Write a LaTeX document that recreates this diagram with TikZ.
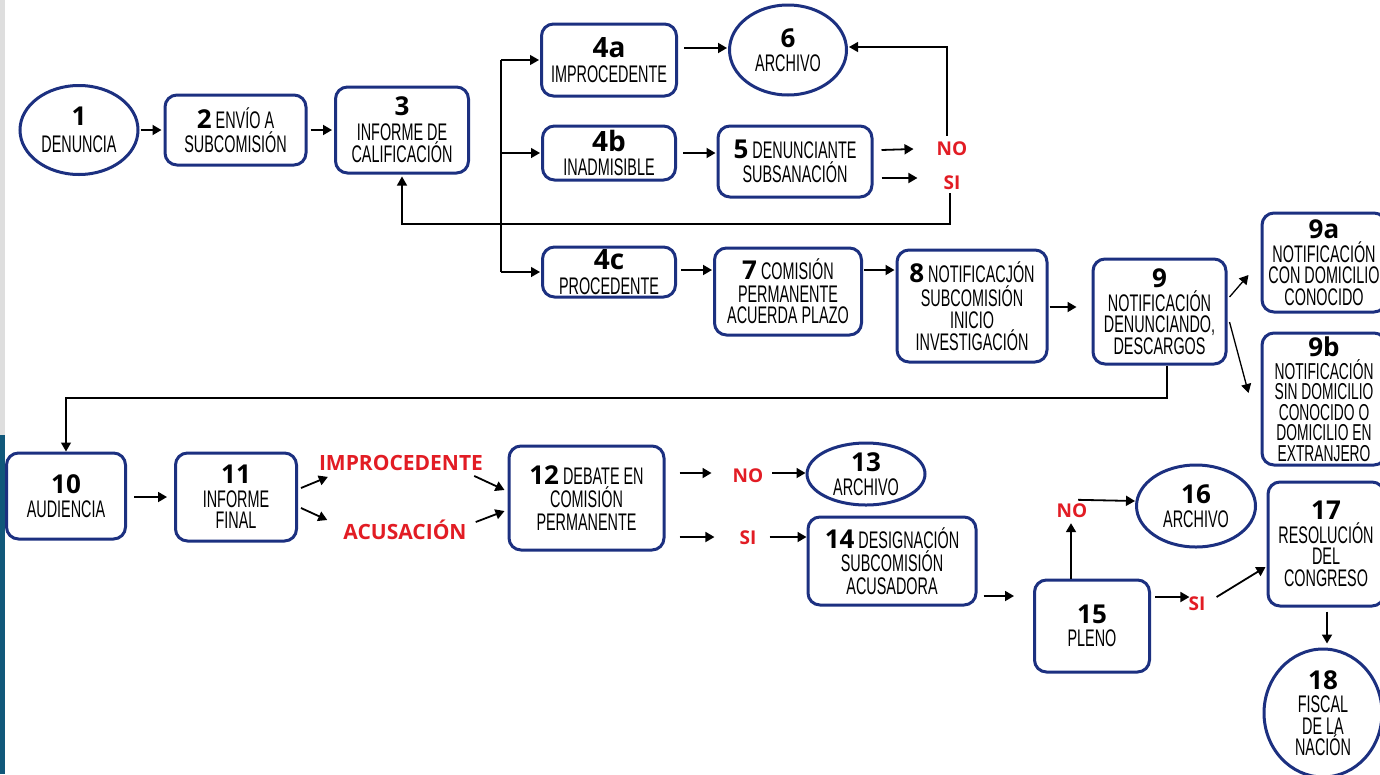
\documentclass[tikz,border=0pt]{standalone}
\usepackage{fontspec}
\usetikzlibrary{shapes.geometric,arrows.meta,calc}
\newfontfamily\cond[FakeStretch=0.6]{Liberation Sans}
\newfontfamily\numf{Open Sans}
\definecolor{navy}{RGB}{28,48,128}
\definecolor{lblred}{RGB}{226,28,36}
\definecolor{stripblue}{RGB}{17,88,122}
\definecolor{stripgrey}{RGB}{222,222,222}
\newcommand{\nm}[1]{{\numf\bfseries\fontsize{26}{26}\selectfont #1}}
\newcommand{\nmb}[1]{{\numf\bfseries\fontsize{28}{28}\selectfont #1}}
\begin{document}
\begin{tikzpicture}[x=1pt,y=-1pt,
  box/.style={draw=navy, line width=3pt, rounded corners=12pt, fill=white, align=center,
    inner sep=0pt, font=\cond\fontsize{24}{21.5}\selectfont, text=black},
  oval/.style={ellipse, draw=navy, line width=3pt, fill=white, align=center,
    inner sep=0pt, font=\cond\fontsize{24}{21.5}\selectfont, text=black},
  lbl/.style={font=\numf\bfseries\fontsize{21}{21}\selectfont, text=lblred, inner sep=1pt},
  slbl/.style={font=\numf\bfseries\fontsize{19}{19}\selectfont, text=lblred, inner sep=1pt},
  arr/.style={-{Triangle[length=9pt,width=10pt]}, line width=1.8pt},
  lnk/.style={-{Triangle[length=9pt,width=10pt]}, line width=1.3pt},
  plain/.style={line width=1.3pt},
]
\useasboundingbox (0,0) rectangle (1380,774);
\clip (0,0) rectangle (1380,774);
\fill[white] (0,0) rectangle (1380,774);
\fill[stripgrey] (0,0) rectangle (5,435);
\fill[stripblue] (0,435) rectangle (5,774);

% ---- nodes ----
\node[oval, minimum width=118pt, minimum height=89pt] (n1) at (79,130) {\nm{1}\\[6pt]DENUNCIA};
\node[box, minimum width=141pt, minimum height=70pt] (n2) at (235.5,130) {\nm{2} ENVÍO A\\[2pt]SUBCOMISIÓN};
\node[box, minimum width=133pt, minimum height=86pt] (n3) at (402,130) {\nm{3}\\[3pt]INFORME DE\\[1pt]CALIFICACIÓN};
\node[box, minimum width=135pt, minimum height=72pt] (n4a) at (609,60) {\nmb{4a}\\[4pt]IMPROCEDENTE};
\node[oval, minimum width=117pt, minimum height=90pt] (n6) at (788,50) {\nm{6}\\[3pt]ARCHIVO};
\node[box, minimum width=133pt, minimum height=54pt] (n4b) at (609,153) {\nmb{4b}\\[3pt]INADMISIBLE};
\node[box, minimum width=154pt, minimum height=71pt] (n5) at (795,161.5) {\nm{5} DENUNCIANTE\\[2pt]SUBSANACIÓN};
\node[box, minimum width=133pt, minimum height=50pt] (n4c) at (609,272) {\nmb{4c}\\[3pt]PROCEDENTE};
\node[box, minimum width=147pt, minimum height=87pt] (n7) at (788,291.5) {\nm{7} COMISIÓN\\[1pt]PERMANENTE\\ACUERDA PLAZO};
\node[box, minimum width=150pt, minimum height=112pt] (n8) at (972,306) {\nm{8} NOTIFICACJÓN\\[2pt]SUBCOMISIÓN\\[1pt]INICIO\\INVESTIGACIÓN};
\node[box, minimum width=133pt, minimum height=105pt] (n9) at (1159.5,311.5) {\nm{9}\\[2pt]NOTIFICACIÓN\\DENUNCIANDO,\\DESCARGOS};
\node[box, minimum width=124pt, minimum height=99pt] (n9a) at (1324,262.5) {\nm{9a}\\[2pt]NOTIFICACIÓN\\CON DOMICILIO\\CONOCIDO};
\node[box, minimum width=124pt, minimum height=132pt, font=\cond\fontsize{23}{20.5}\selectfont] (n9b) at (1324,399) {\nm{9b}\\[2pt]NOTIFICACIÓN\\SIN DOMICILIO\\CONOCIDO O\\DOMICILIO EN\\EXTRANJERO};
\node[box, minimum width=119pt, minimum height=86pt] (n10) at (66,496) {\nm{10}\\[2pt]AUDIENCIA};
\node[box, minimum width=121pt, minimum height=88pt] (n11) at (236,497) {\nm{11}\\[2pt]INFORME\\FINAL};
\node[box, minimum width=155pt, minimum height=104pt] (n12) at (586.5,498) {\nm{12} DEBATE EN\\[2pt]COMISIÓN\\[1pt]PERMANENTE};
\node[oval, minimum width=118pt, minimum height=62pt, inner sep=-10pt] (n13) at (866,474) {\nm{13}\\[3pt]ARCHIVO};
\node[box, minimum width=168pt, minimum height=88pt] (n14) at (892,561) {\nm{14} DESIGNACIÓN\\[2pt]SUBCOMISIÓN\\[1pt]ACUSADORA};
\node[box, minimum width=115pt, minimum height=92pt] (n15) at (1092,626) {\nm{15}\\[2pt]PLENO};
\node[oval, minimum width=119pt, minimum height=82pt] (n16) at (1196,506) {\nm{16}\\[2pt]ARCHIVO};
\node[box, minimum width=116pt, minimum height=124pt] (n17) at (1326,544) {\nm{17}\\[2pt]RESOLUCIÓN\\DEL\\CONGRESO};
\node[oval, minimum width=118pt, minimum height=128pt, inner sep=-12pt] (n18) at (1323,713) {\nm{18}\\[2pt]FISCAL\\DE LA\\NACIÓN};

% ---- red labels ----
\node[slbl] (lNO1) at (952,149) {NO};
\node[slbl] (lSI1) at (952,183) {SI};
\node[lbl] (lIMP) at (401,463) {IMPROCEDENTE};
\node[lbl] (lACU) at (405,530) {ACUSACIÓN};
\node[slbl] (lNO2) at (748,476) {NO};
\node[slbl] (lSI2) at (748,538) {SI};
\node[slbl] (lNO3) at (1072,511) {NO};
\node[slbl] (lSI3) at (1197,604) {SI};

\coordinate (bus) at (501,0);
\coordinate (fb) at (0,224);
\coordinate (down) at (0,398);

% ---- connectors ----
\draw[arr] ($(n1.east)+(1,0)$) -- ($(n2.west)+(-2,0)$);
\draw[arr] ($(n2.east)+(3,0)$) -- ($(n3.west)+(-2,0)$);
% bus
\draw[plain] (bus |- n4a.west) -- (bus |- n4c.west);
\draw[lnk] (bus |- n4a.west) -- ($(n4a.west)+(-1,0)$);
\draw[lnk] (bus |- n4b.west) -- ($(n4b.west)+(-1,0)$);
\draw[lnk] (bus |- n4c.west) -- ($(n4c.west)+(-1,0)$);
\draw[arr] ($(n4a.east |- n6.west)+(6,-2)$) -- ($(n6.west)+(-1,-2)$);
\draw[arr] ($(n4b.east)+(6,0)$) -- ($(n4b.east -| n5.west)+(-1,0)$);
\draw[arr] ($(n5.east)+(8,-11.5)$) -- ($(lNO1.west)+(-22,0)$);
\draw[arr] ($(n5.east)+(8,16.5)$) -- ($(lSI1.west)+(-25,-5)$);
\draw[lnk] ($(lNO1.north)+(-5,-5)$) |- ($(n6.east)+(1,-3)$);
\draw[lnk] ($(lSI1.south)+(-2,2)$) |- (n3.south |- fb) -- ($(n3.south)+(0,2)$);
\draw[arr] ($(n4c.east)+(4,-2)$) -- ($(n4c.east -| n7.west)+(-1,-2)$);
\draw[arr] ($(n7.east)+(1,-21.5)$) -- ($(n8.west |- n7.east)+(-1,-21.5)$);
\draw[arr] ($(n8.east)+(1,1)$) -- ($(n9.west)+(-15,-4.5)$);
\draw[lnk] ($(n9.east)+(2,-14.5)$) -- ($(n9a.west)+(-12,12.5)$);
\draw[lnk] ($(n9.east)+(2,10.5)$) -- ($(n9b.west)+(-12,-6)$);
\draw[lnk] ($(n9.south)+(7.5,0)$) |- (n10.north |- down) -- (n10.north);
\draw[arr] ($(n10.east)+(7,1)$) -- ($(n11.west)+(-7,0)$);
\draw[arr] ($(n11.east)+(3,-9)$) -- ($(lIMP.south west)+(10,5)$);
\draw[arr] ($(n11.east)+(3,11)$) -- ($(lACU.west)+(-15,-10)$);
\draw[arr] ($(lIMP.south east)+(-10,4)$) -- ($(n12.west)+(-3,-8)$);
\draw[arr] ($(lACU.east)+(8,-8)$) -- ($(n12.west)+(-3,13)$);
\draw[arr] ($(n12.east)+(14,-25)$) -- ($(lNO2.west)+(-20,-3)$);
\draw[arr] ($(lNO2.east)+(8,-3)$) -- ($(n13.west)+(0,-1)$);
\draw[arr] ($(n12.east)+(14,39)$) -- ($(lSI2.west)+(-24,-1)$);
\draw[arr] ($(lSI2.east)+(12,-1)$) -- ($(n14.west)+(0,-24)$);
\draw[arr] ($(n14.east)+(6,35)$) -- ($(n15.west)+(-19,-30)$);
\draw[arr] ($(n15.north)+(-21,0)$) -- ($(lNO3.south)+(-1,4)$);
\draw[arr] ($(lNO3.north)+(6,-3)$) -- ($(n16.west)+(0,-5)$);
\draw[arr] ($(n15.east)+(4,-29)$) -- ($(lSI3.west)+(2,-7)$);
\draw[arr] ($(lSI3.east)+(10,-7)$) -- ($(n17.west)+(-1,23)$);
\draw[arr] ($(n17.south)+(1,4)$) -- ($(n18.north)+(4,-4)$);
\end{tikzpicture}
\end{document}
